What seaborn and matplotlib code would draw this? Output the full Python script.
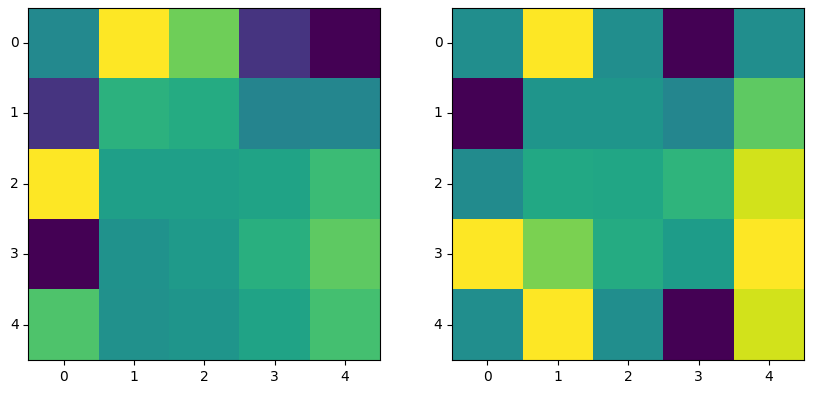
"""
Two side-by-side 5x5 viridis heatmaps (imshow look) drawn with seaborn.
"""

import matplotlib

matplotlib.use("Agg")

import matplotlib.pyplot as plt
import numpy as np
import seaborn as sns

ROW_LABELS = ["0", "1", "2", "3", "4"]
COL_LABELS = ["0", "1", "2", "3", "4"]

LEFT_VALUES = [
    [0.47, 1.00, 0.78, 0.15, 0.00],
    [0.15, 0.64, 0.61, 0.45, 0.46],
    [1.00, 0.56, 0.56, 0.58, 0.68],
    [0.00, 0.51, 0.54, 0.63, 0.75],
    [0.72, 0.50, 0.52, 0.58, 0.70],
]

RIGHT_VALUES = [
    [0.49, 1.00, 0.49, 0.00, 0.49],
    [0.00, 0.52, 0.52, 0.46, 0.75],
    [0.48, 0.60, 0.59, 0.65, 0.93],
    [1.00, 0.80, 0.61, 0.55, 1.00],
    [0.49, 1.00, 0.49, 0.00, 0.93],
]


def draw_panel(ax, values) -> None:
    sns.heatmap(
        np.array(values),
        ax=ax,
        cmap="viridis",
        cbar=False,
        square=True,
        xticklabels=COL_LABELS,
        yticklabels=ROW_LABELS,
    )
    ax.tick_params(
        axis="both",
        bottom=True,
        left=True,
        length=3.5,
        width=0.8,
        labelsize=10,
        colors="black",
    )
    plt.setp(ax.get_yticklabels(), rotation=0, va="center")
    plt.setp(ax.get_xticklabels(), rotation=0)
    for spine in ax.spines.values():
        spine.set_visible(True)
        spine.set_color("black")
        spine.set_linewidth(0.8)


def main() -> None:
    sns.set_theme(style="white")
    plt.rcParams["font.family"] = ["DejaVu Sans"]

    fig, axes = plt.subplots(1, 2, figsize=(8.13, 3.95), dpi=100)
    fig.subplots_adjust(left=0.034, right=0.990, bottom=0.089, top=0.980, wspace=0.2)

    draw_panel(axes[0], LEFT_VALUES)
    draw_panel(axes[1], RIGHT_VALUES)

    fig.savefig("out.png", dpi=100)
    plt.close(fig)


if __name__ == "__main__":
    main()
